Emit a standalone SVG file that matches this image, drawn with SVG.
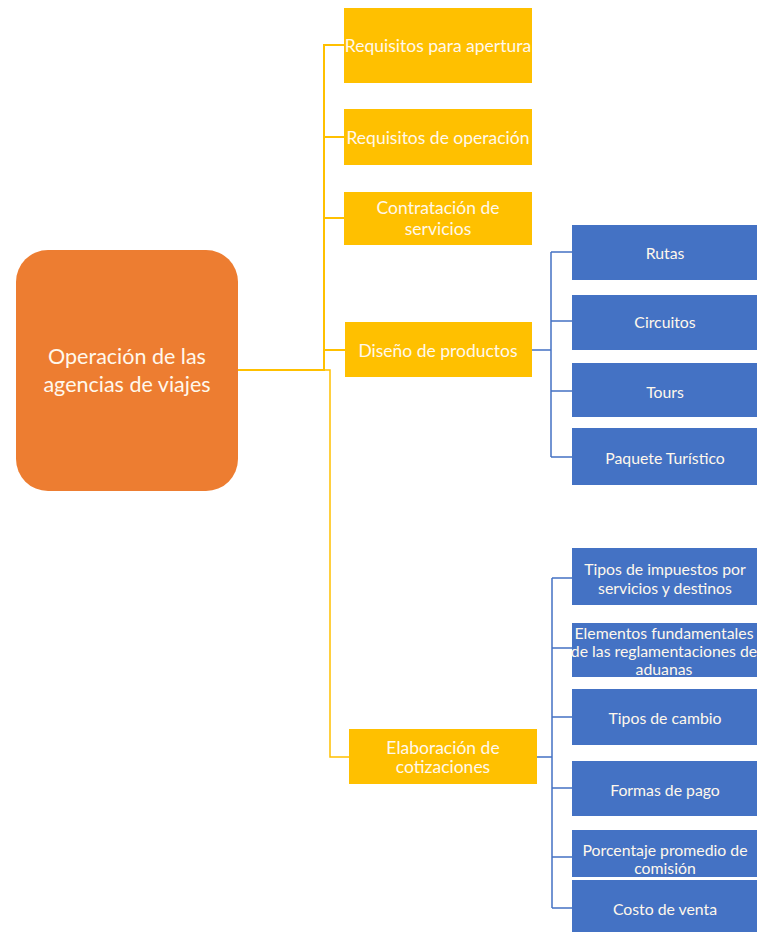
<svg xmlns="http://www.w3.org/2000/svg" width="757" height="932" viewBox="0 0 757 932">
<style>
.y{fill:#FFC000}
.b{fill:#4472C4}
.o{fill:#ED7D31}
text{font-family:Lato,"Open Sans","Liberation Sans",sans-serif;fill:#FFF8EC;text-anchor:middle;dominant-baseline:central}
.ty{font-size:17.5px}
.tb{font-size:15.8px}
.to{font-size:21.5px}
.cy{stroke:#FFC000;fill:none;stroke-width:2}
.cyt{stroke:#FFC000;fill:none;stroke-width:1.5}
.cb{stroke:#4472C4;fill:none;stroke-width:1.5}
</style>
<rect width="757" height="932" fill="#FFFFFF"/>
<g id="connectors">
<path class="cy" d="M238 370 H324 V45 H344 M324 137 H344 M324 218 H344 M324 350 H345"/>
<path class="cyt" d="M324 370 H330 V757 H349"/>
<path class="cb" d="M532 350 H551 M551 252 V457 M551 252 H572 M551 321 H572 M551 391 H572 M551 457 H572"/>
<path class="cb" d="M537 757 H552 M552 578 V908 M552 578 H572 M552 648 H572 M552 717 H572 M552 788 H572 M552 857 H572 M552 908 H572"/>
</g>
<g id="root">
<rect class="o" x="16" y="250" width="222" height="241" rx="32"/>
<text class="to" x="127" y="356">Operación  de las</text>
<text class="to" x="127" y="384">agencias de viajes</text>
</g>
<g id="req-apertura">
<rect class="y" x="344" y="8" width="188" height="75"/>
<text class="ty" x="438" y="45">Requisitos para apertura</text>
</g>
<g id="req-operacion">
<rect class="y" x="344" y="109" width="188" height="56"/>
<text class="ty" x="438" y="137">Requisitos de operación</text>
</g>
<g id="contratacion">
<rect class="y" x="344" y="192" width="188" height="53"/>
<text class="ty" x="438" y="207">Contratación de</text>
<text class="ty" x="438" y="228">servicios</text>
</g>
<g id="diseno">
<rect class="y" x="345" y="322" width="187" height="55"/>
<text class="ty" x="438" y="350">Diseño de productos</text>
</g>
<g id="elaboracion">
<rect class="y" x="349" y="729" width="188" height="55"/>
<text class="ty" x="443" y="747">Elaboración de</text>
<text class="ty" x="443" y="766">cotizaciones</text>
</g>
<g id="rutas">
<rect class="b" x="572" y="225" width="185" height="55"/>
<text class="tb" x="665" y="252">Rutas</text>
</g>
<g id="circuitos">
<rect class="b" x="572" y="295" width="185" height="55"/>
<text class="tb" x="665" y="321">Circuitos</text>
</g>
<g id="tours">
<rect class="b" x="572" y="363" width="185" height="54"/>
<text class="tb" x="665" y="391">Tours</text>
</g>
<g id="paquete">
<rect class="b" x="572" y="428" width="185" height="57"/>
<text class="tb" x="665" y="457">Paquete Turístico</text>
</g>
<g id="impuestos">
<rect class="b" x="572" y="548" width="185" height="57"/>
<text class="tb" x="665" y="568">Tipos de impuestos por</text>
<text class="tb" x="665" y="587">servicios y destinos</text>
</g>
<g id="elementos">
<rect class="b" x="572" y="623" width="185" height="54"/>
<text class="tb" x="664" y="632">Elementos fundamentales</text>
<text class="tb" x="664" y="650">de las reglamentaciones de</text>
<text class="tb" x="664" y="668">aduanas</text>
</g>
<g id="cambio">
<rect class="b" x="572" y="689" width="185" height="56"/>
<text class="tb" x="665" y="717">Tipos de cambio</text>
</g>
<g id="formas">
<rect class="b" x="572" y="761" width="185" height="55"/>
<text class="tb" x="665" y="789">Formas de pago</text>
</g>
<g id="porcentaje">
<rect class="b" x="572" y="830" width="185" height="47"/>
<text class="tb" x="665" y="849">Porcentaje promedio de</text>
<text class="tb" x="665" y="867">comisión</text>
</g>
<g id="costo">
<rect class="b" x="572" y="880" width="185" height="52"/>
<text class="tb" x="665" y="908">Costo de venta</text>
</g>
</svg>
